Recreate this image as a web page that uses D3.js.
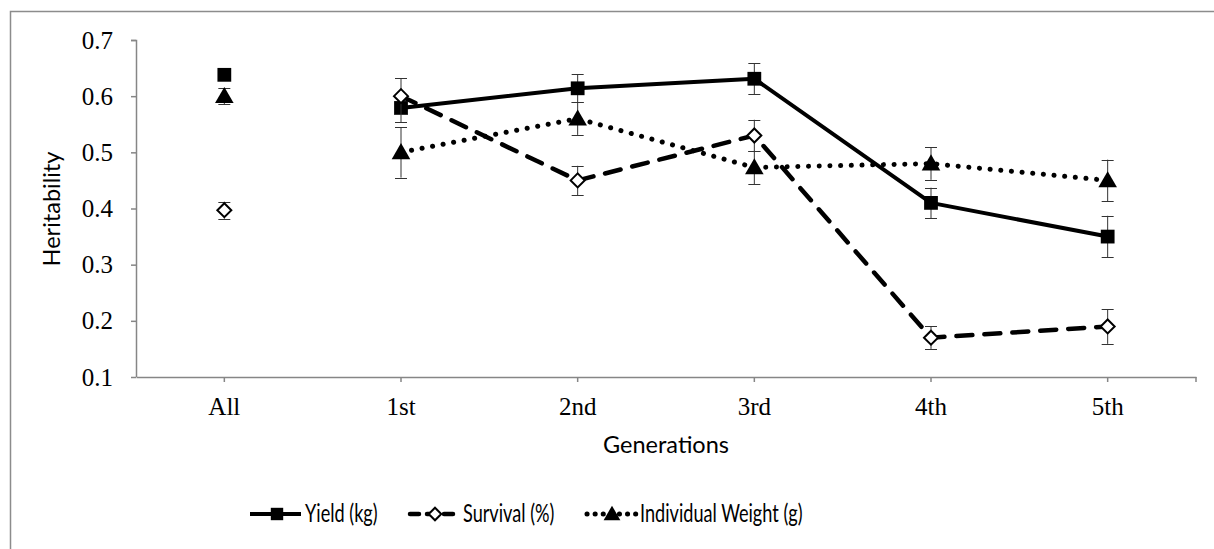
<!DOCTYPE html>
<html>
<head>
<meta charset="utf-8">
<script src="https://cdn.jsdelivr.net/npm/d3@7"></script>
<style>
  body { margin: 0; background: #fff; }
  svg { display: block; }
  .tick text { font-family: "Liberation Serif", "Times New Roman", serif; font-size: 25px; fill: #000; }
</style>
</head>
<body>
<div id="chart"></div>
<script>
/* global d3 */

const generations = ['All', '1st', '2nd', '3rd', '4th', '5th'];
const yTicks = [0.1, 0.2, 0.3, 0.4, 0.5, 0.6, 0.7];

const yieldVals = [0.638, 0.579, 0.614, 0.631, 0.41, 0.35];
const yieldErr = [0.0, 0.025, 0.025, 0.028, 0.027, 0.037];

const survivalVals = [0.397, 0.6, 0.45, 0.53, 0.17, 0.19];
const survivalErr = [0.015, 0.032, 0.026, 0.028, 0.02, 0.031];

const weightVals = [0.6, 0.5, 0.56, 0.473, 0.48, 0.45];
const weightErr = [0.014, 0.045, 0.029, 0.03, 0.029, 0.037];

const width = 1214;
const height = 549;
const axisColor = '#868686';
const sans = 'Lato, "Open Sans", sans-serif';

const $svg = d3.select('#chart')
    .append('svg')
    .attr('width', width)
    .attr('height', height);

// outer chart-area border (runs past the right and bottom edge)
$svg.append('rect')
    .attr('x', 10.5)
    .attr('y', 11.5)
    .attr('width', width + 20)
    .attr('height', height + 20)
    .attr('fill', 'none')
    .attr('stroke', '#8c8c8c')
    .attr('stroke-width', 1.5);

const x = d3.scaleBand()
    .domain(generations)
    .range([136, 1196])
    .padding(0);

const y = d3.scaleLinear()
    .domain([0.1, 0.7])
    .range([377, 40]);

const cx = d => x(d) + x.bandwidth() / 2;

// y axis
const yAxis = $svg.append('g')
    .attr('transform', 'translate(136,0)')
    .call(d3.axisLeft(y).tickValues(yTicks).tickSize(5).tickPadding(18).tickFormat(d3.format('.1f')));
yAxis.select('.domain').attr('stroke', axisColor).attr('stroke-width', 1.5)
    .attr('d', 'M-5,40.5H0.5V377');
yAxis.selectAll('.tick line').attr('stroke', axisColor).attr('stroke-width', 1.5);

// x axis
const xAxis = $svg.append('g')
    .attr('transform', 'translate(0,377)')
    .call(d3.axisBottom(x).tickSize(5).tickSizeOuter(0).tickPadding(15));
xAxis.select('.domain').attr('stroke', axisColor).attr('stroke-width', 1.5);
xAxis.selectAll('.tick line').attr('stroke', axisColor).attr('stroke-width', 1.5);
xAxis.append('line')
    .attr('x1', 1196).attr('x2', 1196)
    .attr('y1', 0).attr('y2', 5)
    .attr('stroke', axisColor).attr('stroke-width', 1.5);

// axis titles
$svg.append('text')
    .attr('x', 666)
    .attr('y', 453)
    .attr('text-anchor', 'middle')
    .attr('font-family', sans)
    .attr('font-size', 23.5)
    .text('Generations');

$svg.append('text')
    .attr('transform', 'translate(60,209) rotate(-90)')
    .attr('text-anchor', 'middle')
    .attr('font-family', sans)
    .attr('font-size', 23.5)
    .text('Heritability');

const series = [
    { name: 'Yield (kg)', vals: yieldVals, err: yieldErr, dash: null, cap: 'butt', width: 4, marker: 'square' },
    { name: 'Survival (%)', vals: survivalVals, err: survivalErr, dash: '16,12', cap: 'round', width: 4.5, marker: 'diamond' },
    { name: 'Individual Weight (g)', vals: weightVals, err: weightErr, dash: '0.1,10.6', cap: 'round', width: 5, marker: 'triangle' }
];

const symbolFor = {
    square: d3.symbol().type(d3.symbolSquare).size(190),
    diamond: () => 'M0,-7L7,0L0,7L-7,0Z',
    triangle: d3.symbol().type(d3.symbolTriangle).size(150)
};

function drawMarker(g, kind, px, py, scale) {
    const s = scale || 1;
    const p = g.append('path')
        .attr('d', symbolFor[kind]())
        .attr('transform', `translate(${px},${py + (kind === 'triangle' ? 1.5 * s : 0)}) scale(${s})`);
    if (kind === 'diamond') {
        p.attr('fill', '#fff').attr('stroke', '#000').attr('stroke-width', 2 / s);
    } else {
        p.attr('fill', '#000');
    }
}

const line = d3.line()
    .x(d => cx(d.g))
    .y(d => y(d.v));

const $plot = $svg.append('g');

series.forEach(s => {
    const pts = generations.map((g, i) => ({ g, v: s.vals[i], e: s.err[i] }));

    // the "All" point stands alone, the line runs over the generations
    $plot.append('path')
        .datum(pts.slice(1))
        .attr('d', line)
        .attr('fill', 'none')
        .attr('stroke', '#000')
        .attr('stroke-width', s.width)
        .attr('stroke-linecap', s.cap)
        .attr('stroke-linejoin', 'round')
        .attr('stroke-dasharray', s.dash);

    // error bars
    pts.filter(p => p.e > 0).forEach(p => {
        const eg = $plot.append('g')
            .attr('stroke', '#333')
            .attr('stroke-width', 1);
        eg.append('line')
            .attr('x1', cx(p.g)).attr('x2', cx(p.g))
            .attr('y1', y(p.v + p.e)).attr('y2', y(p.v - p.e));
        [p.v + p.e, p.v - p.e].forEach(v => {
            eg.append('line')
                .attr('x1', cx(p.g) - 6).attr('x2', cx(p.g) + 6)
                .attr('y1', Math.round(y(v)) + 0.5).attr('y2', Math.round(y(v)) + 0.5);
        });
    });

    pts.forEach(p => drawMarker($plot, s.marker, cx(p.g), y(p.v)));
});

// legend (text in the reference is horizontally squeezed)
const legendX = [250, 408, 585];
const legendY = 514;
const legendDash = [null, '9,8', '0.1,8'];
series.forEach((s, i) => {
    const lg = $svg.append('g');
    lg.append('line')
        .attr('x1', legendX[i] + (s.cap === 'round' ? 2 : 0))
        .attr('x2', legendX[i] + 51)
        .attr('y1', legendY).attr('y2', legendY)
        .attr('stroke', '#000')
        .attr('stroke-width', s.width)
        .attr('stroke-linecap', s.cap)
        .attr('stroke-dasharray', legendDash[i]);
    drawMarker(lg, s.marker, legendX[i] + 27, legendY, 0.9);
    lg.append('text')
        .attr('transform', `translate(${legendX[i] + 55},${legendY + 8}) scale(0.74,1)`)
        .attr('font-family', sans)
        .attr('font-size', 24.5)
        .text(s.name);
});
</script>
</body>
</html>
